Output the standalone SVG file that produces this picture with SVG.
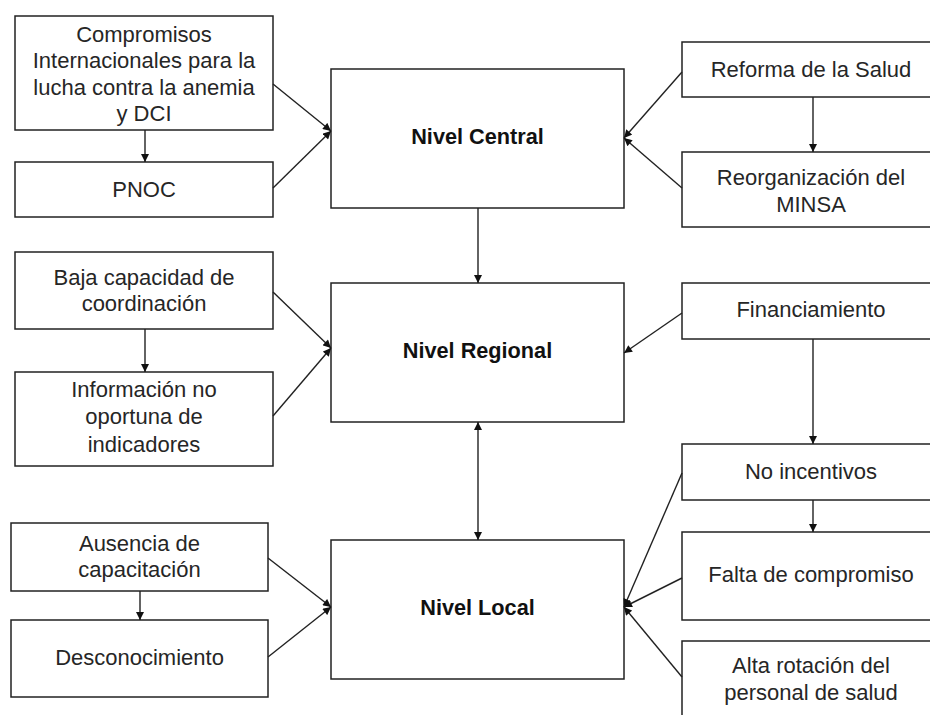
<svg xmlns="http://www.w3.org/2000/svg" width="930" height="715" viewBox="0 0 930 715">
<defs>
<marker id="ah" viewBox="0 0 10 10" refX="10" refY="5" markerWidth="9" markerHeight="8" markerUnits="userSpaceOnUse" orient="auto-start-reverse">
<path d="M0,0 L10,5 L0,10 Z" fill="#111"/>
</marker>
<style>
rect{fill:#fff;stroke:#222;stroke-width:1.5}
text{font-family:"Liberation Sans",Arial,sans-serif;font-size:22px;fill:#262626;text-anchor:middle}
.b{font-weight:bold;fill:#111;font-size:21.7px}
#connectors line{stroke:#222;stroke-width:1.4;fill:none;marker-end:url(#ah)}
</style>
</defs>
<rect x="0" y="0" width="930" height="715" style="fill:#fff;stroke:none"/>
<g id="n-compromisos"><rect x="15" y="16" width="258" height="114"/><text x="144" y="42">Compromisos</text><text x="144" y="68">Internacionales para la</text><text x="144" y="95">lucha contra la anemia</text><text x="144" y="121">y DCI</text></g>
<g id="n-pnoc"><rect x="15" y="162" width="258" height="55"/><text x="144" y="197">PNOC</text></g>
<g id="n-central"><rect x="331" y="69" width="293" height="139"/><text class="b" x="477.5" y="144">Nivel Central</text></g>
<g id="n-reforma"><rect x="682" y="42" width="260" height="55"/><text x="811" y="77">Reforma de la Salud</text></g>
<g id="n-reorg"><rect x="682" y="152" width="260" height="75"/><text x="811" y="185">Reorganización del</text><text x="811" y="212">MINSA</text></g>
<g id="n-baja"><rect x="15" y="252" width="258" height="77"/><text x="144" y="285">Baja capacidad de</text><text x="144" y="311">coordinación</text></g>
<g id="n-info"><rect x="15" y="372" width="258" height="94"/><text x="144" y="397">Información no</text><text x="144" y="424">oportuna de</text><text x="144" y="452">indicadores</text></g>
<g id="n-regional"><rect x="331" y="283" width="293" height="139"/><text class="b" x="477.5" y="358">Nivel Regional</text></g>
<g id="n-fin"><rect x="682" y="283" width="260" height="56"/><text x="811" y="317">Financiamiento</text></g>
<g id="n-noinc"><rect x="682" y="444" width="260" height="56"/><text x="811" y="479">No incentivos</text></g>
<g id="n-falta"><rect x="682" y="532" width="260" height="88"/><text x="811" y="582">Falta de compromiso</text></g>
<g id="n-alta"><rect x="682" y="641" width="260" height="90"/><text x="811" y="673">Alta rotación del</text><text x="811" y="700">personal de salud</text></g>
<g id="n-ausencia"><rect x="11" y="523" width="257" height="68"/><text x="139.5" y="551">Ausencia de</text><text x="139.5" y="577">capacitación</text></g>
<g id="n-desc"><rect x="11" y="620" width="257" height="77"/><text x="139.5" y="665">Desconocimiento</text></g>
<g id="n-local"><rect x="331" y="540" width="293" height="139"/><text class="b" x="477.5" y="615">Nivel Local</text></g>
<g id="connectors">
<line x1="273" y1="84" x2="331" y2="131"/>
<line x1="273" y1="188" x2="331" y2="131"/>
<line x1="682" y1="72" x2="624" y2="138"/>
<line x1="682" y1="188" x2="624" y2="138"/>
<line x1="145" y1="130" x2="145" y2="162"/>
<line x1="813" y1="97" x2="813" y2="152"/>
<line x1="478" y1="208" x2="478" y2="283"/>
<line x1="273" y1="292" x2="331" y2="348"/>
<line x1="273" y1="416" x2="331" y2="348"/>
<line x1="145" y1="329" x2="145" y2="372"/>
<line x1="682" y1="313" x2="624" y2="353"/>
<line x1="813" y1="339" x2="813" y2="444"/>
<line x1="478" y1="422" x2="478" y2="540" style="marker-start:url(#ah)"/>
<line x1="268" y1="558" x2="331" y2="607"/>
<line x1="268" y1="657" x2="331" y2="607"/>
<line x1="140" y1="591" x2="140" y2="620"/>
<line x1="682" y1="473" x2="624" y2="607"/>
<line x1="682" y1="578" x2="624" y2="607"/>
<line x1="682" y1="677" x2="624" y2="607"/>
<line x1="813" y1="500" x2="813" y2="532"/>
</g>
</svg>
